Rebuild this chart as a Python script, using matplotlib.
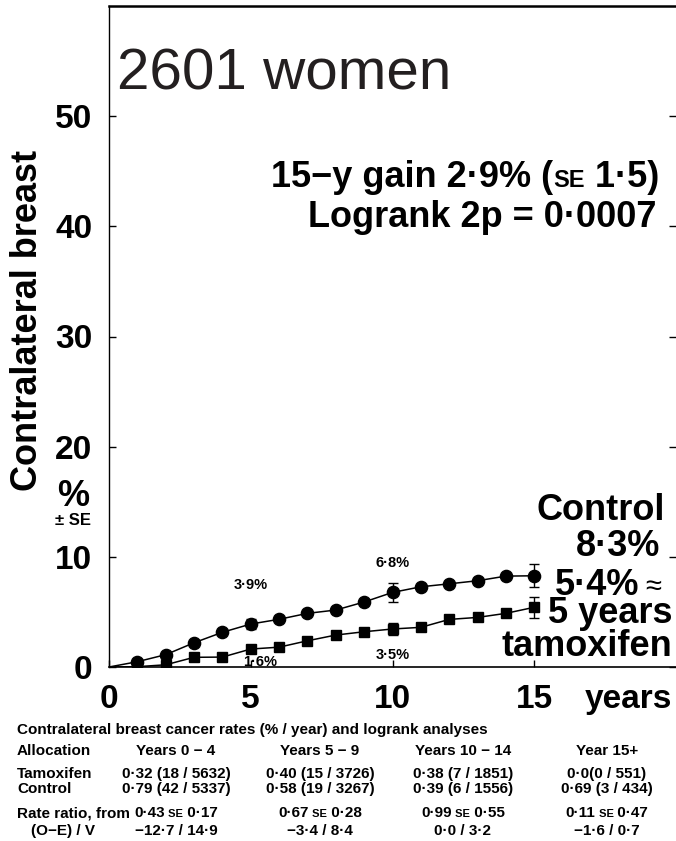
import matplotlib
matplotlib.use('Agg')
import matplotlib.pyplot as plt

plt.rcParams['font.family'] = ['Liberation Sans', 'DejaVu Sans']

# ---------------- data ----------------
years = list(range(0, 16))
control = [0, 0.48, 1.12, 2.2, 3.15, 3.9, 4.33, 4.87, 5.17, 5.9, 6.77, 7.28, 7.55, 7.83, 8.25, 8.28]
tamoxifen = [0, 0.03, 0.2, 0.88, 0.9, 1.63, 1.8, 2.38, 2.9, 3.2, 3.45, 3.6, 4.32, 4.5, 4.87, 5.42]
se_years = [5, 10, 15]
control_se = [0.45, 0.88, 1.06]
tamoxifen_se = [0.3, 0.55, 0.97]

xticks = [0, 5, 10, 15]
xticklabels = ['0', '5', '10', '15']
yticks = [0, 10, 20, 30, 40, 50]
yticklabels = ['0', '10', '20', '30', '40', '50']

table_title = "Contralateral breast cancer rates (% / year) and logrank analyses"
row_labels = ["Allocation", "Tamoxifen", "Control", "Rate ratio, from"]
oev_label = "(O\u2212E) / V"
headers = ["Years 0 \u2212 4", "Years 5 \u2212 9", "Years 10 \u2212 14", "Year 15+"]
tam_row = ["0\u00b732 (18 / 5632)", "0\u00b740 (15 / 3726)", "0\u00b738 (7 / 1851)", "0\u00b70(0 / 551)"]
ctl_row = ["0\u00b779 (42 / 5337)", "0\u00b758 (19 / 3267)", "0\u00b739 (6 / 1556)", "0\u00b769 (3 / 434)"]
rr_ratio = ["0\u00b743", "0\u00b767", "0\u00b799", "0\u00b711"]
rr_se = ["0\u00b717", "0\u00b728", "0\u00b755", "0\u00b747"]
oev_row = ["\u221212\u00b77 / 14\u00b79", "\u22123\u00b74 / 8\u00b74", "0\u00b70 / 3\u00b72", "\u22121\u00b76 / 0\u00b77"]

# ---------------- figure ----------------
W, H = 676, 841
fig = plt.figure(figsize=(W / 100, H / 100), dpi=100)
ax = fig.add_axes([109 / W, 1 - 667 / H, (W - 109) / W, (667 - 6) / H])

ax.plot(years, control, color='black', lw=1.1, marker='o', ms=8.8, markevery=list(range(1, 16)))
ax.plot(years, tamoxifen, color='black', lw=1.1, marker='s', ms=7.8, markevery=list(range(1, 16)))
ax.errorbar(se_years, [control[y] for y in se_years], yerr=control_se, fmt='none',
            ecolor='black', elinewidth=1.0, capsize=3.5, capthick=1.0)
ax.errorbar(se_years, [tamoxifen[y] for y in se_years], yerr=tamoxifen_se, fmt='none',
            ecolor='black', elinewidth=1.0, capsize=3.5, capthick=1.0)

ax.set_xlim(0, 20)
ax.set_ylim(0, 60)
ax.set_xticks(xticks)
ax.set_xticklabels(xticklabels)
ax.set_yticks(yticks)
ax.set_yticklabels(yticklabels)
ax.tick_params(axis='both', direction='in', length=5, width=1.0, labelsize=24, pad=12)
ax.tick_params(axis='y', right=True)
for lab in ax.get_xticklabels() + ax.get_yticklabels():
    lab.set_fontweight('bold')

ax.spines['right'].set_visible(False)
ax.spines['top'].set_linewidth(1.8)
ax.spines['left'].set_linewidth(1.0)
ax.spines['bottom'].set_linewidth(1.2)


def fx(x):
    return x / W


def fy(y):
    return 1 - y / H


renderer = fig.canvas.get_renderer()


def runs_text(x, y, runs, ha='left'):
    objs, widths = [], []
    for s, size, weight in runs:
        t = fig.text(0, 0, s, size=size, weight=weight, va='baseline', ha='left')
        w = t.get_window_extent(renderer=renderer).width
        objs.append(t)
        widths.append(w)
    total = sum(widths)
    if ha == 'left':
        x0 = x
    elif ha == 'center':
        x0 = x - total / 2
    else:
        x0 = x - total
    for t, w in zip(objs, widths):
        t.set_position((fx(x0), fy(y)))
        x0 += w


# ---- annotations in plot ----
fig.text(fx(117), fy(89), "2601 women", size=42, color='#231f20', ha='left', va='baseline')
runs_text(659, 187, [("15\u2212y gain 2\u00b79% (", 26, 'bold'), ("SE", 17, 'bold'),
                     (" 1\u00b75)", 26, 'bold')], ha='right')
fig.text(fx(657), fy(227), "Logrank 2p = 0\u00b70007", size=26, weight='bold', ha='right', va='baseline')

fig.text(fx(665), fy(520), "Control", size=26, weight='bold', ha='right', va='baseline')
fig.text(fx(660), fy(556), "8\u00b73%", size=26, weight='bold', ha='right', va='baseline')
fig.text(fx(555), fy(595), "5\u00b74%", size=26, weight='bold', ha='left', va='baseline')
fig.text(fx(653), fy(587), "\u2248", size=21, ha='center', va='center')
fig.text(fx(672), fy(623), "5 years", size=26, weight='bold', ha='right', va='baseline')
fig.text(fx(672), fy(656), "tamoxifen", size=26, weight='bold', ha='right', va='baseline')

for s, x, y in [("3\u00b79%", 251, 585), ("6\u00b78%", 393, 563), ("1\u00b76%", 260, 662), ("3\u00b75%", 393, 655)]:
    fig.text(fx(x), fy(y), s, size=10.5, weight='bold', ha='center', va='center')

# axis label parts
fig.text(fx(37), fy(320), "Contralateral breast", size=26, weight='bold', rotation=90,
         rotation_mode='anchor', ha='center', va='baseline')
fig.text(fx(73), fy(506), "%", size=26, weight='bold', ha='center', va='baseline')
fig.text(fx(73), fy(525), "\u00b1 SE", size=12, weight='bold', ha='center', va='baseline')
fig.text(fx(672), fy(708), "years", size=24, weight='bold', ha='right', va='baseline')

# ---- table ----
TS = 11
col_x = [176, 320, 463, 607]
row_y = [755, 778, 793, 817, 835]
fig.text(fx(17), fy(734), table_title, size=TS, weight='bold', ha='left', va='baseline')
for lab, y in zip(row_labels, row_y[:4]):
    fig.text(fx(17), fy(y), lab, size=TS, weight='bold', ha='left', va='baseline')
fig.text(fx(63), fy(row_y[4]), oev_label, size=TS, weight='bold', ha='center', va='baseline')
for i, x in enumerate(col_x):
    fig.text(fx(x), fy(row_y[0]), headers[i], size=TS, weight='bold', ha='center', va='baseline')
    fig.text(fx(x), fy(row_y[1]), tam_row[i], size=TS, weight='bold', ha='center', va='baseline')
    fig.text(fx(x), fy(row_y[2]), ctl_row[i], size=TS, weight='bold', ha='center', va='baseline')
    runs_text(x, row_y[3], [(rr_ratio[i], TS, 'bold'), (" SE", 8, 'bold'), (" " + rr_se[i], TS, 'bold')],
              ha='center')
    fig.text(fx(x), fy(row_y[4]), oev_row[i], size=TS, weight='bold', ha='center', va='baseline')

fig.savefig('out.png', dpi=100)
